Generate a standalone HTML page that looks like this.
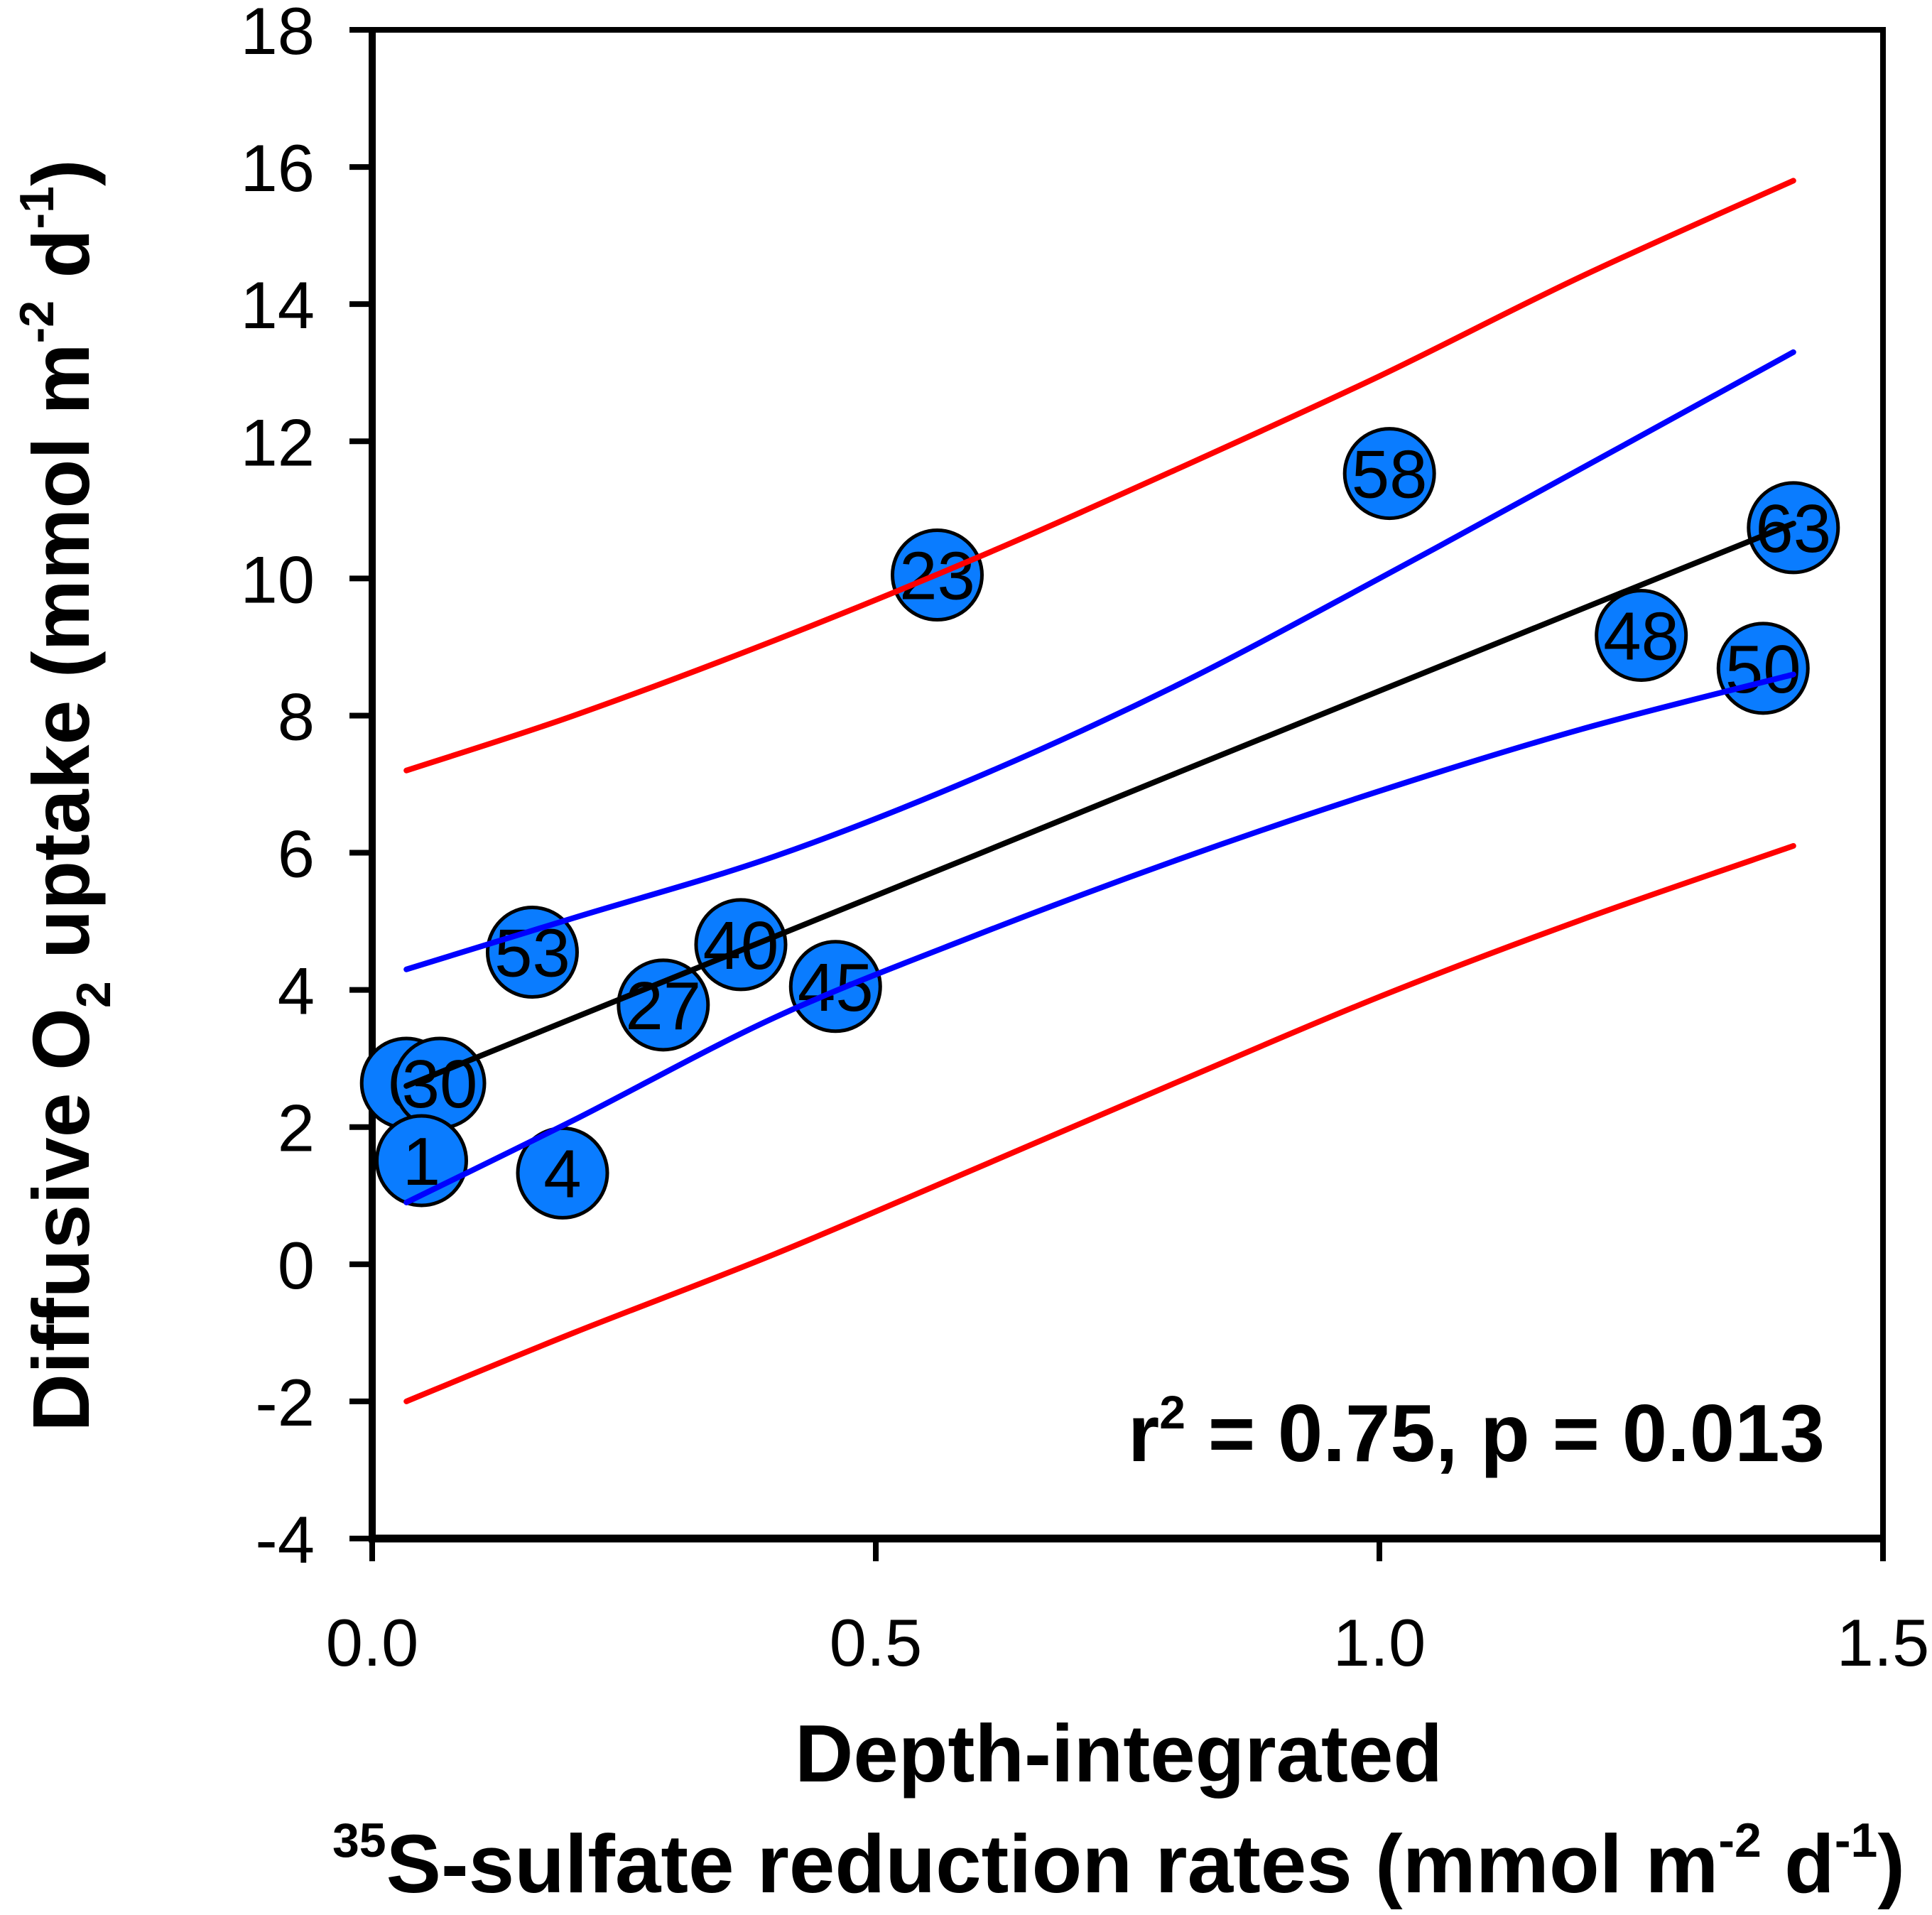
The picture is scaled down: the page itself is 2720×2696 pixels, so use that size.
<!DOCTYPE html>
<html><head><meta charset="utf-8"><style>
html,body{margin:0;padding:0;background:#fff;}
svg{display:block;font-family:"Liberation Sans",Arial,sans-serif;}
</style></head><body>
<svg id="chart" width="2720" height="2696" viewBox="0 0 2720 2696" xmlns="http://www.w3.org/2000/svg">
<g id="axes"></g>
<g id="points"></g>
<g id="lines"></g>
<text x="2569" y="2057" text-anchor="end" font-size="114" font-weight="bold">r<tspan dy="-46" font-size="66">2</tspan><tspan dy="46"> = 0.75, p = 0.013</tspan></text>
<text x="1575" y="2508" text-anchor="middle" font-size="114" font-weight="bold">Depth-integrated</text>
<text x="1575" y="2664" text-anchor="middle" font-size="116" font-weight="bold"><tspan dy="-50" font-size="68">35</tspan><tspan dy="50">S-sulfate reduction rates (mmol m</tspan><tspan dy="-50" font-size="68">-2</tspan><tspan dy="50"> d</tspan><tspan dy="-50" font-size="68">-1</tspan><tspan dy="50">)</tspan></text>
<text transform="translate(125,1120) rotate(-90)" text-anchor="middle" font-size="113" font-weight="bold">Diffusive O<tspan dy="30" font-size="68">2</tspan><tspan dy="-30"> uptake (mmol m</tspan><tspan dy="-50" font-size="68">-2</tspan><tspan dy="50"> d</tspan><tspan dy="-50" font-size="68">-1</tspan><tspan dy="50">)</tspan></text>
</svg>
<script>
const xTicks = [0, 0.5, 1.0, 1.5];
const xTickLabels = ["0.0", "0.5", "1.0", "1.5"];
const yTicks = [-4, -2, 0, 2, 4, 6, 8, 10, 12, 14, 16, 18];
const pointLabels = ["6", "30", "1", "4", "53", "27", "40", "45", "23", "58", "48", "50", "63"];
const pointX = [0.034, 0.067, 0.049, 0.189, 0.159, 0.289, 0.366, 0.460, 0.561, 1.010, 1.260, 1.381, 1.411];
const pointY = [2.64, 2.64, 1.51, 1.33, 4.55, 3.78, 4.66, 4.05, 10.05, 11.53, 9.17, 8.69, 10.74];
const curveX = [0.034, 0.2, 0.4, 0.6, 0.8, 1.0, 1.2, 1.411];
const fitY = [2.60, 3.59, 4.78, 5.97, 7.17, 8.36, 9.55, 10.80];
const confUpperY = [4.3, 5.05, 5.95, 7.1, 8.45, 10.0, 11.6, 13.3];
const confLowerY = [0.9, 2.1, 3.6, 4.8, 5.9, 6.9, 7.8, 8.6];
const predUpperY = [7.2, 8.0, 9.1, 10.3, 11.6, 12.95, 14.4, 15.8];
const predLowerY = [-2.0, -1.0, 0.15, 1.4, 2.66, 3.9, 5.02, 6.1];

const L=524, R=2651, T=42, B=2166;
const sx = v => L + (v-0)/1.5*(R-L);
const sy = v => B - (v+4)/22*(B-T);
const NS="http://www.w3.org/2000/svg";
function mk(tag, parent, attrs){const e=document.createElementNS(NS,tag);for(const k in attrs)e.setAttribute(k,attrs[k]);parent.appendChild(e);return e;}
const axes=document.getElementById('axes');
const frame=mk('rect',axes,{x:L,y:T,width:R-L,height:B-T,fill:'none',stroke:'#000','stroke-width':8});


const xb=mk('line',axes,{x1:L-5,y1:B,x2:R+4,y2:B,stroke:'#000','stroke-width':11});


const yb=mk('line',axes,{x1:L,y1:T-4,x2:L,y2:B,stroke:'#000','stroke-width':10});


xTicks.forEach((v,i)=>{
  const t=mk('line',axes,{x1:sx(v),y1:B,x2:sx(v),y2:B+32,stroke:'#000','stroke-width':8});
  
  
  const tx=mk('text',axes,{x:sx(v),y:2345,'text-anchor':'middle','font-size':94});
  tx.textContent=xTickLabels[i];
  
  
});
yTicks.forEach(v=>{
  const t=mk('line',axes,{x1:L-32,y1:sy(v),x2:L,y2:sy(v),stroke:'#000','stroke-width':8});
  
  
  const tx=mk('text',axes,{x:443,y:sy(v)+34,'text-anchor':'end','font-size':94});
  tx.textContent=String(v);
  
  
});
const pts=document.getElementById('points');
pointX.forEach((v,i)=>{
  const c=mk('circle',pts,{cx:sx(v),cy:sy(pointY[i]),r:63,fill:'#0a7cff',stroke:'#000','stroke-width':5});
  
  
  const tx=mk('text',pts,{x:sx(v),y:sy(pointY[i])+34,'text-anchor':'middle','font-size':96});
  tx.textContent=pointLabels[i];
  
  
});
const lines=document.getElementById('lines');
function curve(ys,color,name){
  const P=curveX.map((x,i)=>[sx(x),sy(ys[i])]);
  let d='M'+P[0][0].toFixed(1)+' '+P[0][1].toFixed(1);
  for(let i=0;i<P.length-1;i++){
    const p0=P[Math.max(0,i-1)],p1=P[i],p2=P[i+1],p3=P[Math.min(P.length-1,i+2)];
    const c1=[p1[0]+(p2[0]-p0[0])/6,p1[1]+(p2[1]-p0[1])/6];
    const c2=[p2[0]-(p3[0]-p1[0])/6,p2[1]-(p3[1]-p1[1])/6];
    d+=' C'+c1[0].toFixed(1)+' '+c1[1].toFixed(1)+' '+c2[0].toFixed(1)+' '+c2[1].toFixed(1)+' '+p2[0].toFixed(1)+' '+p2[1].toFixed(1);
  }
  const p=mk('path',lines,{d:d,fill:'none',stroke:color,'stroke-width':8,'stroke-linecap':'round'});
  
  
}
curve(predUpperY,'#ff0000','prediction-upper');
curve(predLowerY,'#ff0000','prediction-lower');
curve(confUpperY,'#0000ff','confidence-upper');
curve(confLowerY,'#0000ff','confidence-lower');
curve(fitY,'#000000','regression-line');
</script>
</body></html>
